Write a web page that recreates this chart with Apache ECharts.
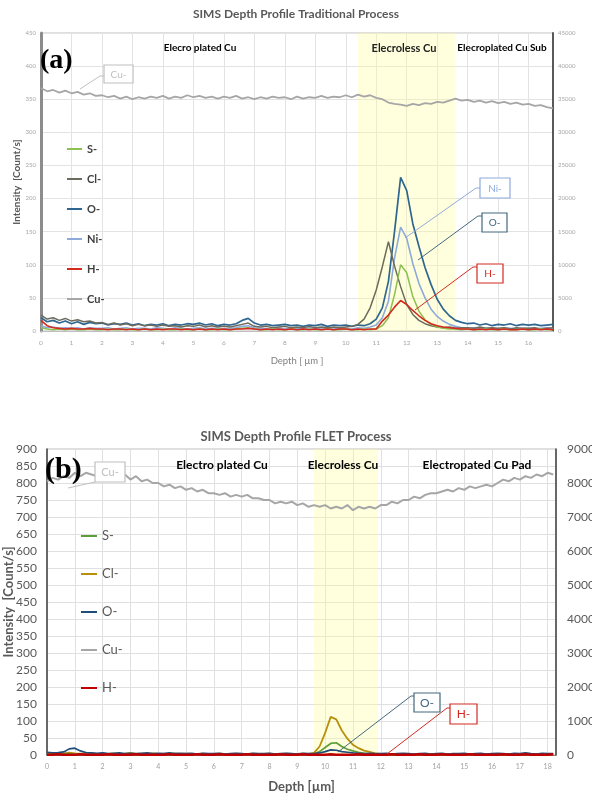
<!DOCTYPE html>
<html><head><meta charset="utf-8">
<script src="https://cdn.jsdelivr.net/npm/echarts@6/dist/echarts.min.js"></script>
<style>
html,body{margin:0;padding:0;background:#fff;width:592px;height:798px;overflow:hidden}
#c1{position:absolute;left:0;top:0;width:592px;height:400px}
#c2{position:absolute;left:0;top:400px;width:592px;height:398px}
</style>
</head><body><div id="c1"></div><div id="c2"></div>
<script>
// ---------- (a) Traditional process ----------
const TITLE_A = 'SIMS Depth Profile Traditional Process';
const LEGEND_A = ['S-','Cl-','O-','Ni-','H-','Cu-'];
const BAND_A = [10.4, 13.6];
const DEPTH_A = [0,0.2,0.4,0.6,0.8,1,1.2,1.4,1.6,1.8,2,2.2,2.4,2.6,2.8,3,3.2,3.4,3.6,3.8,4,4.2,4.4,4.6,4.8,5,5.2,5.4,5.6,5.8,6,6.2,6.4,6.6,6.8,7,7.2,7.4,7.6,7.8,8,8.2,8.4,8.6,8.8,9,9.2,9.4,9.6,9.8,10,10.2,10.4,10.6,10.8,11,11.2,11.4,11.6,11.8,12,12.2,12.4,12.6,12.8,13,13.2,13.4,13.6,13.8,14,14.2,14.4,14.6,14.8,15,15.2,15.4,15.6,15.8,16,16.2,16.4,16.6,16.8];
const S_A = [5,3,2,3,2,3,2,2,3,2, 2,3,2,2,3,2,2,3,2,2, 3,2,2,3,2,2,3,2,2,3, 2,2,3,4,5,3,2,2,3,2, 2,3,2,2,3,2,2,3,2,2, 3,2,2,3,2,3,8,20,55,100, 88,52,30,17,10,6,4,3,3,2, 3,2,2,3,2,2,3,2,2,3,2,2,3,2,2];
const CL_A = [24,18,20,16,19,15,17,14,15,12, 13,10,12,9,11,8,10,8,9,7, 9,7,8,6,8,7,9,6,8,6, 7,6,8,10,12,7,6,7,5,6, 7,5,6,5,7,5,6,5,6,5, 6,7,10,18,35,62,97,135,98,67, 40,25,16,11,8,6,5,6,4,5, 5,4,6,4,5,4,5,3,5,4,4,5,3,4,5];
const O_A = [20,14,16,12,15,11,14,10,13,11, 12,9,11,10,12,9,11,8,10,9, 11,8,10,9,11,10,12,9,11,8, 10,9,11,16,19,12,9,10,8,9, 10,8,9,7,9,8,10,7,9,8, 9,7,9,8,11,18,35,75,150,232, 212,162,128,96,70,48,33,23,16,13, 11,12,9,11,8,10,9,11,8,10,9,10,8,9,10];
const NI_A = [8,5,6,4,5,4,5,3,5,4, 4,5,3,4,5,3,4,4,3,5, 4,3,5,4,3,4,5,3,4,4, 3,4,5,7,8,5,4,3,4,5, 3,4,4,3,5,4,3,4,3,4, 4,3,5,4,6,9,20,45,110,157, 140,102,72,50,33,22,15,10,7,5, 4,5,3,4,4,3,5,4,3,4,4,3,4,5,3];
const H_A = [16,8,5,4,3,4,3,3,4,3, 3,2,3,3,2,3,2,3,2,3, 2,3,3,2,3,2,3,2,3,2, 3,2,3,3,4,3,2,3,2,3, 2,3,2,3,2,3,2,3,2,3, 3,2,3,2,3,3,15,24,36,46, 40,31,23,16,11,8,6,5,4,3, 3,2,3,2,3,2,3,2,2,3,2,3,2,3,2];
const CU_A = [36700,36200,36400,36000,36300,35900,36100,35700,35900,35500, 35600,35300,35500,35100,35400,35000,35300,35100,35400,35200, 35500,35100,35400,35200,35600,35300,35500,35200,35400,35100, 35400,35200,35500,35100,35300,35000,35300,35100,35400,35200, 35300,35000,35400,35100,35300,35200,35500,35200,35400,35300, 35600,35300,35700,35400,35600,35200,35000,34500,34300,34200, 34000,34300,34100,34400,34300,34600,34500,34800,35100,34800, 34900,34600,34800,34500,34700,34400,34600,34300,34500,34200,34300,34000,34100,33800,33600];

// ---------- (b) FLET process ----------
const TITLE_B = 'SIMS Depth Profile FLET Process';
const LEGEND_B = ['S-','Cl-','O-','Cu-','H-'];
const BAND_B = [9.6, 11.9];
const DEPTH_B = [0,0.2,0.4,0.6,0.8,1,1.2,1.4,1.6,1.8,2,2.2,2.4,2.6,2.8,3,3.2,3.4,3.6,3.8,4,4.2,4.4,4.6,4.8,5,5.2,5.4,5.6,5.8,6,6.2,6.4,6.6,6.8,7,7.2,7.4,7.6,7.8,8,8.2,8.4,8.6,8.8,9,9.2,9.4,9.6,9.8,10,10.2,10.4,10.6,10.8,11,11.2,11.4,11.6,11.8,12,12.2,12.4,12.6,12.8,13,13.2,13.4,13.6,13.8,14,14.2,14.4,14.6,14.8,15,15.2,15.4,15.6,15.8,16,16.2,16.4,16.6,16.8,17,17.2,17.4,17.6,17.8,18,18.2];
const S_B = [2,1,2,3,4,3,2,1,2,1, 2,1,1,2,1,2,1,1,2,1, 1,2,1,1,2,1,1,2,1,1, 2,1,1,2,1,1,2,1,1,2, 1,1,2,1,1,2,1,1,3,10, 22,34,36,25,17,12,8,5,3,2, 1,2,1,1,2,1,1,2,1,1, 2,1,1,2,1,1,2,1,1,2, 1,1,2,1,1,2,1,1,2,1,1,2];
const CL_B = [4,6,3,5,7,5,4,3,5,3, 4,3,5,3,4,6,3,4,3,5, 3,4,3,5,3,4,3,3,4,3, 3,4,3,3,4,3,3,4,3,3, 4,3,3,4,3,3,4,3,6,25, 65,112,105,72,48,30,20,13,9,5, 3,3,2,3,2,3,2,2,3,2, 2,3,2,2,3,2,2,3,2,2, 3,2,2,3,2,2,3,2,2,3,2,2];
const O_B = [8,6,7,9,18,20,12,7,6,5, 6,4,5,6,4,5,4,5,6,4, 5,4,6,4,5,4,5,3,5,4, 4,5,3,4,5,4,3,5,4,4, 5,3,4,5,4,3,5,4,4,6, 10,15,14,10,8,6,5,4,5,4, 4,5,3,4,5,4,3,4,5,3, 4,5,3,4,4,5,3,4,5,3, 4,5,4,3,5,4,6,4,3,5,4,4];
const H_B = [1,1,2,1,1,1,2,1,1,1, 1,2,1,1,1,1,2,1,1,1, 1,1,2,1,1,1,1,2,1,1, 1,2,1,1,1,1,2,1,1,1, 1,1,2,1,1,1,2,1,1,1, 1,2,1,1,1,1,2,1,1,1, 1,1,2,1,1,1,1,2,1,1, 1,2,1,1,1,1,2,1,1,1, 1,1,2,1,1,1,2,1,1,1,1,2];
const CU_B = [8050,8150,8100,8200,8150,8300,8200,8300,8250,8200, 8300,8200,8250,8150,8250,8100,8200,8050,8100,8000, 8000,7900,7950,7850,7900,7800,7850,7750,7800,7700, 7700,7650,7700,7600,7650,7600,7650,7550,7550,7500, 7500,7400,7450,7400,7450,7350,7400,7300,7350,7300, 7350,7250,7300,7250,7350,7200,7300,7250,7300,7250, 7350,7350,7450,7400,7500,7500,7600,7550,7650,7700, 7700,7750,7800,7750,7850,7800,7900,7850,7900,7950, 7900,8000,8100,8050,8150,8100,8200,8150,8250,8200,8300,8250];

const FONT = 'Lato, "Open Sans", sans-serif';
const pairs = (xs, ys) => xs.map((x, i) => [x, ys[i]]);
const plain = v => String(v);

function line(name, xs, ys, color, width, yIdx, z) {
  return {
    type: 'line', name: name, data: pairs(xs, ys), yAxisIndex: yIdx || 0,
    showSymbol: false, symbol: 'none', silent: true, animation: false, z: z,
    color: color, lineStyle: { color: color, width: width }
  };
}
function band(range, color) {
  return {
    type: 'line', name: '_band', data: [], silent: true, z: 1,
    markArea: { silent: true, itemStyle: { color: color }, data: [[{ xAxis: range[0] }, { xAxis: range[1] }]] }
  };
}
function txt(x, y, s, font, fill, align) {
  return { type: 'text', x: x, y: y, z: 100, style: { text: s, font: font, fill: fill,
    textAlign: align || 'center', align: align || 'center', textVerticalAlign: 'middle', verticalAlign: 'middle' } };
}
function callout(bx, by, bw, bh, s, col, pts, fsz) {
  return [
    { type: 'polyline', z: 99, shape: { points: pts }, style: { stroke: col, lineWidth: 1, fill: null } },
    { type: 'rect', z: 100, shape: { x: bx, y: by, width: bw, height: bh }, style: { fill: '#fff', stroke: col, lineWidth: 1.2 } },
    txt(bx + bw / 2, by + bh / 2 + 0.5, s, fsz + 'px ' + FONT, col)
  ];
}

// ---- chart (a)
const cA = echarts.init(document.getElementById('c1'), null, { renderer: 'canvas' });
cA.setOption({
  animation: false,
  textStyle: { fontFamily: FONT },
  title: { text: TITLE_A, left: 'center', top: 3, textStyle: { fontSize: 12, fontWeight: 'bold', color: '#595959', fontFamily: FONT } },
  legend: { orient: 'vertical', left: 62, top: 137, itemWidth: 15, itemHeight: 2, icon: 'rect', itemGap: 16, selectedMode: false,
    textStyle: { fontSize: 11, fontWeight: 'bold', color: '#404040', lineHeight: 14, fontFamily: FONT }, data: LEGEND_A },
  grid: { left: 41, top: 33, width: 512, height: 298, show: true, borderColor: '#BFBFBF', borderWidth: 1, outerBoundsMode: 'none', containLabel: false },
  xAxis: { type: 'value', min: 0, max: 16.8, interval: 1,
    name: 'Depth [ μm ]', nameLocation: 'middle', nameGap: 25, nameMoveOverlap: false,
    nameTextStyle: { fontSize: 9.5, color: '#7F7F7F', fontFamily: FONT },
    axisLabel: { fontSize: 6.5, color: '#A6A6A6', margin: 8, showMaxLabel: false },
    axisTick: { show: false }, axisLine: { lineStyle: { color: '#BFBFBF' } },
    splitLine: { show: true, lineStyle: { color: '#E3E3E3' } } },
  yAxis: [
    { type: 'value', min: 0, max: 450, interval: 50,
      name: 'Intensity  [Count/s]', nameLocation: 'middle', nameGap: 19, nameMoveOverlap: false,
      nameTextStyle: { fontSize: 10, fontWeight: 'bold', color: '#595959', fontFamily: FONT },
      axisLabel: { fontSize: 6, color: '#A6A6A6', margin: 5, formatter: plain },
      axisTick: { show: false }, axisLine: { show: true, lineStyle: { color: '#8C8C8C', width: 3 } },
      splitLine: { show: true, lineStyle: { color: '#E3E3E3' } } },
    { type: 'value', min: 0, max: 45000, interval: 5000, position: 'right',
      axisLabel: { fontSize: 6, color: '#A6A6A6', margin: 5, formatter: plain },
      axisTick: { show: false }, axisLine: { show: true, lineStyle: { color: '#595959', width: 2 } },
      splitLine: { show: false } }
  ],
  series: [
    band(BAND_A, 'rgba(255,255,150,0.32)'),
    line('Cu-', DEPTH_A, CU_A, '#A6A6A6', 1.8, 1, 2),
    line('O-', DEPTH_A, O_A, '#2F6690', 1.7, 0, 3),
    line('Ni-', DEPTH_A, NI_A, '#8EAADB', 1.6, 0, 4),
    line('Cl-', DEPTH_A, CL_A, '#6B6B5E', 1.5, 0, 5),
    line('S-', DEPTH_A, S_A, '#8CC152', 1.5, 0, 6),
    line('H-', DEPTH_A, H_A, '#D42A20', 1.6, 0, 7)
  ],
  graphic: [].concat(
    [ txt(40, 61, '(a)', 'bold 28px "Liberation Serif", serif', '#000', 'left'),
      txt(200, 48, 'Elecro plated Cu', 'bold 10px ' + FONT, '#000'),
      txt(404, 48, 'Elecroless Cu', 'bold 11px ' + FONT, '#222'),
      txt(502, 48, 'Elecroplated Cu Sub', 'bold 10px ' + FONT, '#000') ],
    callout(104, 65, 29, 18, 'Cu-', '#BFBFBF', [[104, 76], [100, 76], [80, 89]], 10),
    callout(480, 178, 30, 20, 'Ni-', '#8FAADC', [[480, 188], [476, 188], [405, 238]], 10),
    callout(482, 213, 25, 19, 'O-', '#44687F', [[482, 216], [478, 216], [418, 260]], 10),
    callout(477, 264, 26, 19, 'H-', '#D42A20', [[477, 267], [473, 267], [415, 310]], 10)
  )
});

// ---- chart (b)
const cB = echarts.init(document.getElementById('c2'), null, { renderer: 'canvas' });
cB.setOption({
  animation: false,
  textStyle: { fontFamily: FONT },
  title: { text: TITLE_B, left: 'center', top: 25, textStyle: { fontSize: 13, fontWeight: 'bold', color: '#595959', fontFamily: FONT } },
  legend: { orient: 'vertical', left: 76, top: 123, itemWidth: 16, itemHeight: 2, icon: 'rect', itemGap: 22, selectedMode: false,
    textStyle: { fontSize: 13, color: '#595959', lineHeight: 16, fontFamily: FONT }, data: LEGEND_B },
  grid: { left: 47, top: 49, width: 509, height: 306, show: true, borderColor: '#BFBFBF', borderWidth: 1, outerBoundsMode: 'none', containLabel: false },
  xAxis: { type: 'value', min: 0, max: 18.3, interval: 1,
    name: 'Depth [µm]', nameLocation: 'middle', nameGap: 25, nameMoveOverlap: false,
    nameTextStyle: { fontSize: 13, fontWeight: 'bold', color: '#595959', fontFamily: FONT },
    axisLabel: { fontSize: 7, color: '#A0A0A0', margin: 8, showMaxLabel: false },
    axisTick: { show: false }, axisLine: { lineStyle: { color: '#7F7F7F' } },
    splitLine: { show: true, lineStyle: { color: '#E0E0E0' } } },
  yAxis: [
    { type: 'value', min: 0, max: 900, interval: 50,
      name: 'Intensity  [Count/s]', nameLocation: 'middle', nameGap: 32, nameMoveOverlap: false,
      nameTextStyle: { fontSize: 13, fontWeight: 'bold', color: '#595959', fontFamily: FONT },
      axisLabel: { fontSize: 12, color: '#595959', margin: 10, formatter: plain },
      axisTick: { show: false }, axisLine: { show: true, lineStyle: { color: '#404040', width: 1.5 } },
      splitLine: { show: true, lineStyle: { color: '#E0E0E0' } } },
    { type: 'value', min: 0, max: 9000, interval: 1000, position: 'right',
      axisLabel: { fontSize: 12, color: '#595959', margin: 11, formatter: plain },
      axisTick: { show: false }, axisLine: { show: true, lineStyle: { color: '#404040', width: 1.5 } },
      splitLine: { show: false } }
  ],
  series: [
    band(BAND_B, 'rgba(255,255,150,0.32)'),
    line('Cu-', DEPTH_B, CU_B, '#A6A6A6', 2, 1, 2),
    line('Cl-', DEPTH_B, CL_B, '#B8900C', 1.8, 0, 3),
    line('S-', DEPTH_B, S_B, '#5E9E3A', 1.7, 0, 4),
    line('O-', DEPTH_B, O_B, '#1F4E79', 1.7, 0, 5),
    line('H-', DEPTH_B, H_B, '#C00000', 2.5, 0, 6)
  ],
  graphic: [].concat(
    [ txt(45, 70, '(b)', 'bold 30px "Liberation Serif", serif', '#000', 'left'),
      txt(222, 65, 'Electro plated Cu', 'bold 12px ' + FONT, '#000'),
      txt(343, 65, 'Elecroless Cu', 'bold 12px ' + FONT, '#000'),
      txt(477, 65, 'Electropated Cu Pad', 'bold 12px ' + FONT, '#000') ],
    callout(95, 62, 30, 20, 'Cu-', '#BFBFBF', [[95, 82], [68, 88]], 11),
    callout(414, 293, 26, 19, 'O-', '#44687F', [[414, 296], [411, 296], [338, 352]], 12),
    callout(450, 304, 27, 20, 'H-', '#D42A20', [[450, 308], [447, 308], [387, 354]], 12)
  )
});
</script>
</body></html>
